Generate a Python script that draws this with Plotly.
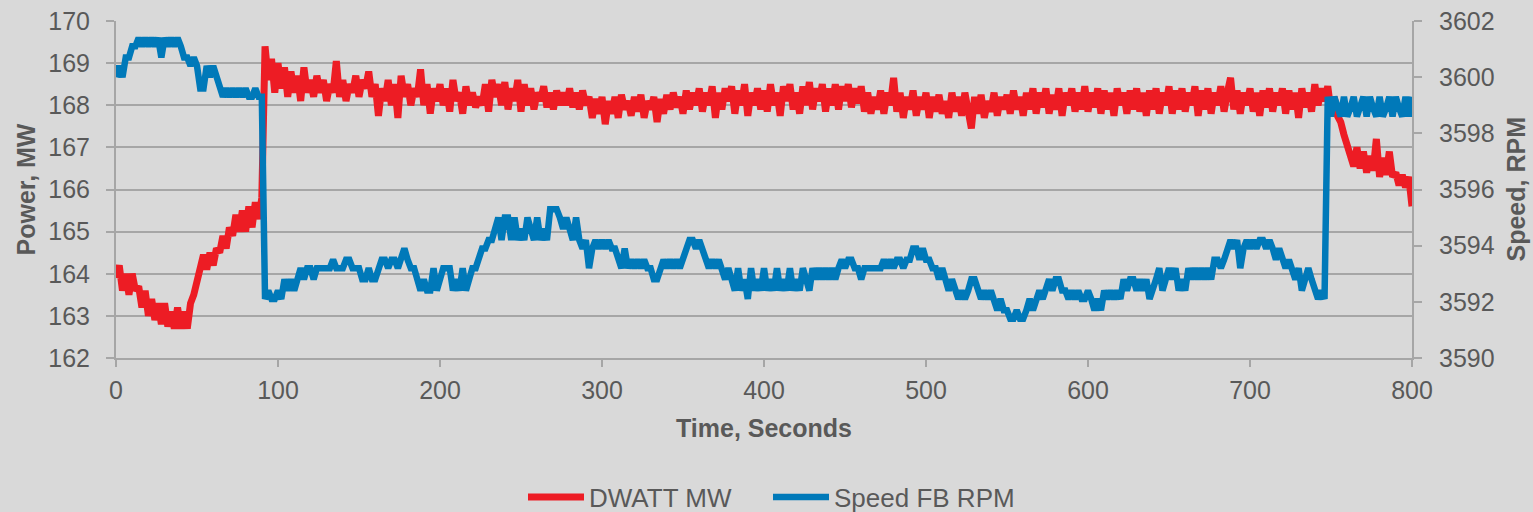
import plotly.graph_objects as go

# Sample times (seconds), 2-second sampling
time_s = list(range(0, 801, 2))

# DWATT MW (power)
power_mw = [
    163.9, 164.2, 163.6, 164.0, 163.5, 164.0, 163.6, 163.7, 163.2, 163.6, 163.0, 163.4, 162.9, 163.3, 162.8, 163.3, 162.75, 163.1, 162.7, 163.2,
    162.7, 163.1, 162.7, 163.3, 163.5, 163.8, 164.1, 164.45, 164.1, 164.5, 164.2, 164.6, 164.5, 164.9, 164.6, 165.1, 164.9, 165.4, 165.0, 165.5,
    165.0, 165.6, 165.1, 165.7, 165.3, 165.8, 169.4, 168.6, 169.1, 168.3, 169.0, 168.4, 168.9, 168.2, 168.8, 168.3, 168.7, 168.1, 168.9, 168.3,
    168.6, 168.2, 168.7, 168.3, 168.6, 168.1, 168.5, 168.3, 169.05, 168.2, 168.6, 168.1, 168.5, 168.3, 168.7, 168.2, 168.6, 168.4, 168.8, 168.2,
    168.5, 167.75, 168.4, 168.1, 168.6, 168.0, 168.5, 167.7, 168.7, 168.2, 168.5, 168.0, 168.4, 168.2, 168.85, 168.0, 168.5, 167.8, 168.4, 168.1,
    168.5, 168.0, 168.4, 167.85, 168.6, 168.1, 168.3, 167.8, 168.45, 168.0, 168.3, 167.95, 168.2, 168.0, 168.5, 167.85, 168.6, 168.2, 168.5, 168.0,
    168.55, 167.9, 168.4, 168.1, 168.6, 167.85, 168.5, 168.0, 168.4, 167.9, 168.3, 168.1, 168.45, 167.95, 168.3, 167.9, 168.35, 168.0, 168.3, 168.0,
    168.4, 167.95, 168.3, 167.9, 168.35, 168.0, 168.2, 167.7, 168.15, 167.8, 168.2, 167.55, 168.1, 167.8, 168.2, 167.7, 168.25, 167.9, 168.1, 167.75,
    168.2, 167.85, 168.25, 167.7, 168.1, 167.9, 168.2, 167.6, 168.15, 167.8, 168.25, 167.9, 168.3, 167.95, 168.2, 167.8, 168.35, 167.9, 168.3, 168.0,
    168.4, 167.85, 168.3, 168.0, 168.45, 167.7, 168.3, 167.9, 168.4, 168.1, 168.45, 167.8, 168.35, 168.0, 168.5, 167.75, 168.3, 168.0, 168.4, 167.9,
    168.35, 167.85, 168.5, 168.0, 168.3, 167.75, 168.45, 168.1, 168.5, 167.9, 168.3, 167.8, 168.45, 168.0, 168.55, 167.9, 168.4, 168.1, 168.5, 167.85,
    168.4, 168.0, 168.5, 167.9, 168.45, 168.1, 168.5, 167.95, 168.4, 168.05, 168.45, 167.85, 168.3, 167.8, 168.2, 167.9, 168.35, 167.8, 168.3, 168.0,
    168.65, 167.85, 168.3, 167.7, 168.2, 167.9, 168.35, 167.75, 168.2, 167.9, 168.3, 167.7, 168.2, 167.85, 168.25, 167.8, 168.1, 167.7, 168.3, 167.85,
    168.2, 167.75, 168.3, 167.85, 167.45, 168.2, 167.8, 168.25, 167.7, 168.1, 167.85, 168.3, 167.75, 168.2, 167.9, 168.25, 167.8, 168.35, 167.9, 168.2,
    167.75, 168.3, 167.9, 168.4, 167.8, 168.3, 167.95, 168.4, 167.8, 168.25, 167.9, 168.4, 167.75, 168.3, 168.0, 168.4, 167.85, 168.3, 167.9, 168.45,
    167.85, 168.3, 167.95, 168.4, 167.8, 168.35, 167.9, 168.3, 167.75, 168.4, 168.0, 168.3, 167.8, 168.35, 167.9, 168.4, 167.85, 168.3, 167.75, 168.35,
    167.9, 168.4, 167.8, 168.3, 168.0, 168.45, 167.8, 168.35, 167.9, 168.4, 167.85, 168.3, 168.0, 168.45, 167.75, 168.35, 167.9, 168.4, 167.8, 168.3,
    168.0, 168.45, 167.85, 168.3, 168.65, 167.9, 168.35, 167.8, 168.3, 168.0, 168.4, 167.85, 168.3, 167.75, 168.35, 167.95, 168.4, 167.85, 168.3, 168.0,
    168.4, 167.8, 168.35, 167.9, 168.3, 167.7, 168.4, 167.95, 168.3, 167.85, 168.5, 168.0, 168.4, 168.1, 168.45, 167.85, 168.2, 167.75, 167.6, 167.3,
    167.0, 166.85, 166.55, 167.0, 166.5, 166.9, 166.4, 166.8, 166.45, 167.2, 166.3, 166.75, 166.35, 166.9, 166.3, 166.4, 166.1, 166.35, 166.05, 166.3, 165.6,
]

# Speed FB RPM
speed_rpm = [
    3600.0, 3600.4, 3600.0, 3600.7, 3600.7, 3601.1, 3601.1, 3601.4, 3601.1, 3601.4, 3601.1, 3601.4, 3601.1, 3601.4, 3600.7, 3601.4, 3601.1, 3601.4, 3601.1, 3601.4,
    3601.1, 3600.7, 3600.7, 3600.4, 3600.7, 3600.4, 3599.6, 3599.6, 3600.4, 3600.0, 3600.4, 3600.0, 3599.6, 3599.3, 3599.6, 3599.3, 3599.6, 3599.3, 3599.6, 3599.3,
    3599.6, 3599.3, 3599.3, 3599.6, 3599.3, 3599.3, 3592.1, 3592.4, 3592.1, 3592.1, 3592.4, 3592.1, 3592.8, 3592.4, 3592.8, 3592.4, 3592.8, 3593.2, 3592.8, 3593.2,
    3593.2, 3592.8, 3593.2, 3593.2, 3593.2, 3593.2, 3593.2, 3593.5, 3593.2, 3593.2, 3593.2, 3593.5, 3593.5, 3593.2, 3593.2, 3593.2, 3592.8, 3592.8, 3593.2, 3592.8,
    3592.8, 3593.2, 3593.5, 3593.5, 3593.2, 3593.5, 3593.5, 3593.2, 3593.5, 3593.9, 3593.5, 3593.2, 3593.2, 3592.8, 3592.4, 3592.8, 3592.4, 3592.4, 3593.2, 3592.4,
    3592.8, 3593.2, 3593.2, 3593.2, 3592.4, 3592.8, 3592.4, 3593.2, 3592.4, 3592.8, 3593.2, 3593.2, 3593.5, 3593.9, 3593.9, 3594.2, 3594.2, 3594.6, 3595.0, 3594.2,
    3595.0, 3595.0, 3594.2, 3595.0, 3594.2, 3594.6, 3594.2, 3595.0, 3594.6, 3594.2, 3595.0, 3594.2, 3594.6, 3594.2, 3595.3, 3595.3, 3595.3, 3595.0, 3594.6, 3595.0,
    3594.6, 3594.2, 3595.0, 3594.2, 3593.9, 3594.2, 3593.2, 3593.9, 3594.2, 3593.9, 3594.2, 3593.9, 3594.2, 3593.9, 3593.9, 3593.5, 3593.2, 3593.9, 3593.2, 3593.5,
    3593.2, 3593.5, 3593.2, 3593.5, 3593.2, 3593.2, 3592.8, 3592.8, 3593.2, 3593.5, 3593.2, 3593.5, 3593.2, 3593.5, 3593.2, 3593.5, 3593.9, 3594.2, 3594.2, 3593.9,
    3594.2, 3593.9, 3593.5, 3593.2, 3593.5, 3593.2, 3593.5, 3593.2, 3592.8, 3593.2, 3592.8, 3592.4, 3593.2, 3592.4, 3592.8, 3592.1, 3593.2, 3592.4, 3592.8, 3592.4,
    3593.2, 3592.4, 3592.8, 3592.4, 3593.2, 3592.4, 3592.8, 3592.4, 3593.2, 3592.4, 3592.8, 3592.4, 3593.2, 3592.8, 3592.4, 3593.2, 3592.8, 3593.2, 3592.8, 3593.2,
    3592.8, 3593.2, 3592.8, 3593.2, 3593.5, 3593.2, 3593.5, 3593.5, 3593.2, 3593.2, 3592.8, 3593.2, 3593.2, 3593.2, 3593.2, 3593.2, 3593.2, 3593.5, 3593.2, 3593.5,
    3593.2, 3593.5, 3593.5, 3593.2, 3593.5, 3593.5, 3593.9, 3593.9, 3593.5, 3593.9, 3593.5, 3593.5, 3593.2, 3593.2, 3592.8, 3593.2, 3592.8, 3592.4, 3592.8, 3592.4,
    3592.1, 3592.4, 3592.1, 3592.4, 3592.8, 3592.8, 3592.4, 3592.1, 3592.4, 3592.1, 3592.4, 3592.1, 3591.7, 3592.1, 3591.7, 3591.7, 3591.4, 3591.4, 3591.7, 3591.4,
    3591.4, 3591.7, 3592.1, 3591.7, 3592.1, 3592.4, 3592.1, 3592.4, 3592.8, 3592.4, 3592.8, 3592.8, 3592.4, 3592.4, 3592.1, 3592.4, 3592.1, 3592.4, 3592.1, 3592.1,
    3592.4, 3592.1, 3591.7, 3592.1, 3591.7, 3592.4, 3592.1, 3592.4, 3592.1, 3592.4, 3592.1, 3592.8, 3592.4, 3592.8, 3592.8, 3592.4, 3592.8, 3592.4, 3592.8, 3592.1,
    3592.4, 3592.8, 3593.2, 3592.4, 3592.8, 3593.2, 3592.8, 3593.2, 3592.4, 3592.8, 3592.4, 3593.2, 3592.8, 3593.2, 3592.8, 3593.2, 3592.8, 3593.2, 3592.8, 3593.5,
    3593.5, 3593.2, 3593.5, 3593.9, 3594.2, 3593.9, 3594.2, 3593.2, 3593.9, 3594.2, 3593.9, 3594.2, 3593.9, 3594.2, 3594.2, 3593.9, 3594.2, 3593.9, 3593.5, 3593.9,
    3593.5, 3593.2, 3593.5, 3593.2, 3592.8, 3593.2, 3592.4, 3592.8, 3593.2, 3592.8, 3592.4, 3592.1, 3592.4, 3592.1, 3599.3, 3598.6, 3599.3, 3598.9, 3598.6, 3599.3,
    3598.6, 3598.9, 3599.3, 3598.6, 3598.9, 3599.3, 3598.6, 3599.3, 3598.9, 3598.6, 3599.3, 3598.6, 3598.9, 3599.3, 3598.6, 3599.3, 3598.9, 3598.6, 3599.3, 3598.6, 3599.3,
]

assert len(time_s) == len(power_mw) == len(speed_rpm), (len(time_s), len(power_mw), len(speed_rpm))

power_ticks = [162, 163, 164, 165, 166, 167, 168, 169, 170]
speed_ticks = [3590, 3592, 3594, 3596, 3598, 3600, 3602]
time_ticks = [0, 100, 200, 300, 400, 500, 600, 700, 800]

FONT = "Liberation Sans, Arial, sans-serif"
TXT = "#595959"
GRID = "#A6A6A6"
BG = "#D9D9D9"
RED = "#ED1C24"
BLUE = "#0079B9"

fig = go.Figure()
fig.add_trace(go.Scatter(x=time_s, y=power_mw, name="DWATT MW", mode="lines",
                         line=dict(color=RED, width=7), yaxis="y", legend="legend"))
fig.add_trace(go.Scatter(x=time_s, y=speed_rpm, name="Speed FB RPM", mode="lines",
                         line=dict(color=BLUE, width=6.5), yaxis="y2", legend="legend2"))

W, H = 1533, 512
L, R, T, B = 116, 1412, 21, 358
pw, ph = R - L, B - T

def px_x(x):
    return (x - L) / pw

def px_y(y):
    return (B - y) / ph

leg_common = dict(orientation="h", xanchor="left", yanchor="middle", y=px_y(497),
                  font=dict(size=26, color=TXT, family=FONT), bgcolor="rgba(0,0,0,0)",
                  itemwidth=56)

fig.update_layout(
    width=W, height=H,
    paper_bgcolor=BG, plot_bgcolor=BG,
    margin=dict(l=L, r=W - R, t=T, b=H - B, pad=0, autoexpand=False),
    font=dict(family=FONT, color=TXT, size=25),
    showlegend=True,
    legend=dict(x=px_x(523), **leg_common),
    legend2=dict(x=px_x(768), **leg_common),
    xaxis=dict(range=[0, 800], tickvals=time_ticks, showgrid=False, zeroline=False,
               showline=True, linecolor=GRID, linewidth=2, ticks="outside", ticklen=7,
               tickwidth=1.5, tickcolor=GRID, tickfont=dict(size=25, color=TXT),
               ticklabelstandoff=2),
    yaxis=dict(range=[162, 170], tickvals=power_ticks, showgrid=True, gridcolor=GRID, gridwidth=2,
               zeroline=False, showline=True, linecolor=GRID, linewidth=2, ticks="outside",
               ticklen=8, tickwidth=1.5, tickcolor=GRID, tickfont=dict(size=25, color=TXT),
               ticklabelstandoff=11),
    yaxis2=dict(range=[3590, 3602], tickvals=speed_ticks, overlaying="y", side="right",
                showgrid=False, zeroline=False, showline=True, linecolor=GRID, linewidth=2,
                ticks="outside", ticklen=8, tickwidth=1.5, tickcolor=GRID,
                tickfont=dict(size=25, color=TXT), ticklabelstandoff=12),
    annotations=[
        dict(text="<b>Power, MW</b>", xref="paper", yref="paper", x=px_x(25), y=0.5,
             textangle=-90, showarrow=False, xanchor="center", yanchor="middle",
             font=dict(size=25, color=TXT, family=FONT)),
        dict(text="<b>Speed, RPM</b>", xref="paper", yref="paper", x=px_x(1515), y=0.5,
             textangle=-90, showarrow=False, xanchor="center", yanchor="middle",
             font=dict(size=25, color=TXT, family=FONT)),
        dict(text="<b>Time, Seconds</b>", xref="paper", yref="paper", x=px_x(764), y=px_y(428),
             showarrow=False, xanchor="center", yanchor="middle",
             font=dict(size=25, color=TXT, family=FONT)),
    ],
)

fig.write_html("out.html", config={"displayModeBar": False},
               post_script="document.body.style.margin='0px';document.body.style.padding='0px';")
